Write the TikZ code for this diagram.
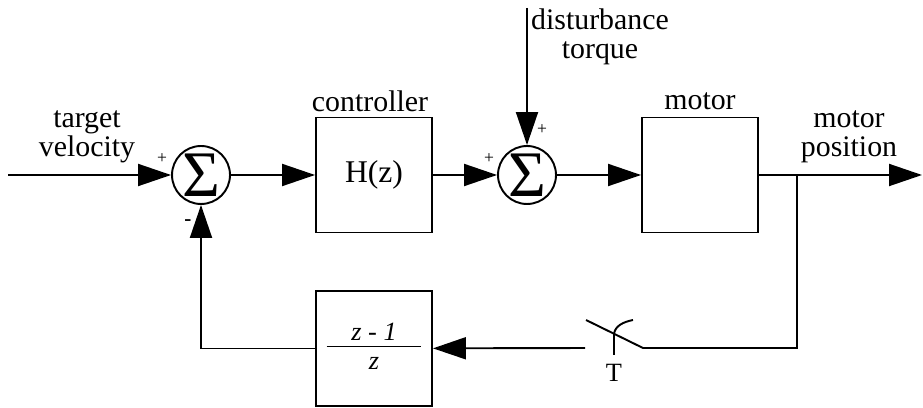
\documentclass[tikz,border=0pt]{standalone}
\usepackage{fontspec}
\setmainfont{Liberation Serif}
\usetikzlibrary{arrows.meta,positioning}
\definecolor{CtlInk}{RGB}{0,0,0}
\tikzset{
  ctl/box/.style={
    draw=CtlInk,
    line width=1.1pt,
    fill=white,
    align=center,
    text=CtlInk,
    minimum width=2.32cm,
    minimum height=2.3cm,
    inner sep=0pt,
    font=\fontsize{18}{20}\selectfont
  },
  ctl/sum/.style={
    circle,
    draw=CtlInk,
    line width=1.1pt,
    fill=white,
    text=CtlInk,
    minimum size=1.16cm,
    inner sep=0pt,
    font=\fontsize{37}{37}\selectfont
  },
  ctl/arrow/.style={-{Triangle[length=0.66cm,width=0.44cm]}, line width=1.1pt, draw=CtlInk},
  ctl/line/.style={line width=1.1pt, draw=CtlInk},
  ctl/label/.style={font=\fontsize{17}{16.5}\selectfont, text=CtlInk, align=center, inner sep=0pt},
  ctl/sign/.style={font=\fontsize{10}{10}\selectfont, text=CtlInk, inner sep=0pt}
}

\begin{document}
\begin{tikzpicture}[x=0.02cm,y=-0.02cm]
  \useasboundingbox (0,0) rectangle (923,408);
  \node[ctl/sum] (sum1) at (201,175) {Σ};
  \node[ctl/box] (ctrl) at (374,175) {H(z)};
  \node[ctl/sum] (sum2) at (527,175) {Σ};
  \node[ctl/box] (motor) at (700,175) {};
  \node[ctl/box] (fb) at (374,348.5) {\fontsize{15}{18}\selectfont\itshape\setlength{\arrayrulewidth}{0.8pt}%
    \begin{tabular}{@{}c@{}}\makebox[1.9cm]{z - 1}\\[-2.5pt]\hline z\end{tabular}};

  \coordinate (in) at (8,175);
  \coordinate (out) at (922,175);
  \coordinate (tap) at (797,175);
  \coordinate (tapdown) at (797,348);
  \coordinate (swR) at (643,348);
  \coordinate (swL) at (586,320);
  \coordinate (swIn) at (585,348);
  \coordinate (dist) at (527,8);
  \coordinate (actB) at (614,355);
  \coordinate (actM) at (614,334);
  \coordinate (actT) at (633,320);

  \node[ctl/label] (tvlbl) at (87,137) {target\\velocity};
  \node[ctl/label] (ctrllbl) at (370,101) {controller};
  \node[ctl/label] (motorlbl) at (700,101) {motor};
  \node[ctl/label] (poslbl) at (849,137) {motor\\position};
  \node[ctl/label] (distlbl) at (600,37) {disturbance\\torque};
  \node[ctl/label,font=\fontsize{15}{15}\selectfont] (Tlbl) at (614,373) {T};
  \node[ctl/sign] (s1plus) at (162,159) {+};
  \node[ctl/sign,font=\fontsize{12}{12}\selectfont\bfseries] (s1minus) at (188,223) {-};
  \node[ctl/sign] (s2plus) at (489,159) {+};
  \node[ctl/sign] (s2top) at (542,130) {+};

  \draw[ctl/arrow] (in) -- (sum1);
  \draw[ctl/arrow] (sum1) -- (ctrl);
  \draw[ctl/arrow] (ctrl) -- (sum2);
  \draw[ctl/arrow] (dist) -- (sum2);
  \draw[ctl/arrow] (sum2) -- (motor);
  \draw[ctl/arrow] (motor) -- (out);
  \draw[ctl/line] (tap) -- (tapdown) -- (swR) -- (swL);
  \draw[ctl/line] (actB) -- (actM) .. controls (615,326) and (623,322) .. (actT);
  \draw[ctl/arrow] (swIn) -- (fb);
  \draw[ctl/arrow] (fb.west) -| (sum1.south);
\end{tikzpicture}
\end{document}
